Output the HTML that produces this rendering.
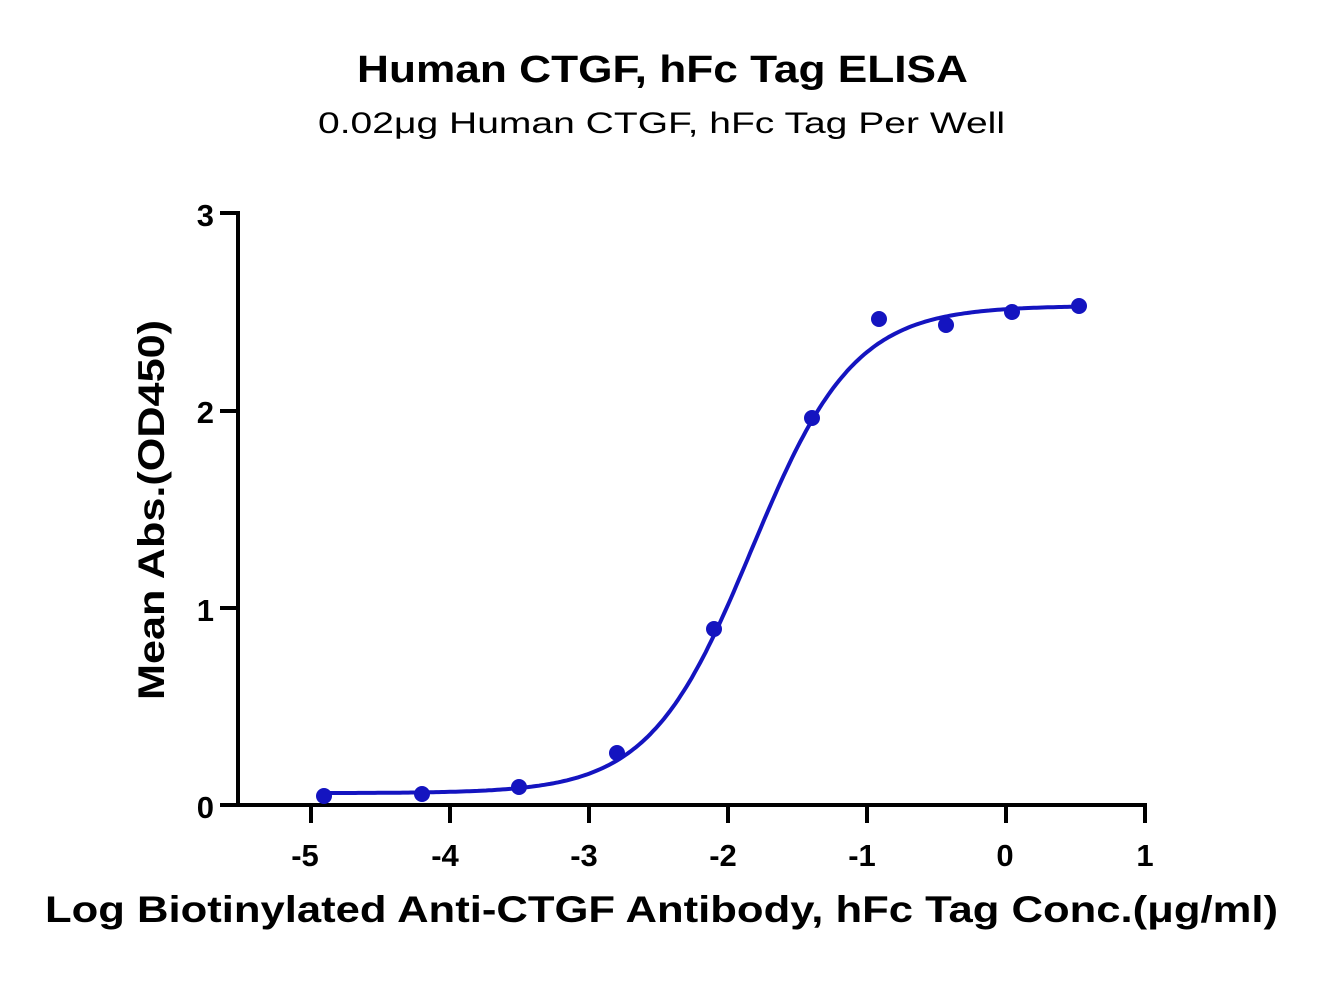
<!DOCTYPE html>
<html><head><meta charset="utf-8"><style>
html,body{margin:0;padding:0;background:#fff;}
svg text{font-family:"Liberation Sans",Arial,sans-serif;}
</style></head><body>
<svg id="s" width="1323" height="978" viewBox="0 0 1323 978" xmlns="http://www.w3.org/2000/svg">
<text x="357" y="82" font-size="38" font-weight="bold" textLength="611" lengthAdjust="spacingAndGlyphs">Human CTGF, hFc Tag ELISA</text>
<text x="318" y="133" font-size="30" textLength="687" lengthAdjust="spacingAndGlyphs">0.02μg Human CTGF, hFc Tag Per Well</text>
<g stroke="#000" stroke-width="4" fill="none">
<line x1="238" y1="211" x2="238" y2="807"/>
<line x1="236" y1="805" x2="1147" y2="805"/>
<line x1="220" y1="213" x2="238" y2="213"/>
<line x1="220" y1="411" x2="238" y2="411"/>
<line x1="220" y1="608" x2="238" y2="608"/>
<line x1="220" y1="805" x2="238" y2="805"/>
<line x1="311" y1="805" x2="311" y2="823"/>
<line x1="450" y1="805" x2="450" y2="823"/>
<line x1="589" y1="805" x2="589" y2="823"/>
<line x1="728" y1="805" x2="728" y2="823"/>
<line x1="867" y1="805" x2="867" y2="823"/>
<line x1="1006" y1="805" x2="1006" y2="823"/>
<line x1="1145" y1="805" x2="1145" y2="823"/>
</g>
<g font-size="31" font-weight="bold" text-anchor="end">
<text x="214" y="226">3</text><text x="214" y="423">2</text><text x="214" y="621">1</text><text x="214" y="818">0</text>
</g>
<g font-size="31" font-weight="bold" text-anchor="middle">
<text x="305" y="866">-5</text><text x="445" y="866">-4</text><text x="584" y="866">-3</text><text x="723" y="866">-2</text><text x="862" y="866">-1</text><text x="1005" y="866">0</text><text x="1145" y="866">1</text>
</g>
<text x="45" y="922" font-size="37" font-weight="bold" textLength="1233" lengthAdjust="spacingAndGlyphs">Log Biotinylated Anti-CTGF Antibody, hFc Tag Conc.(μg/ml)</text>
<text transform="translate(164,700) rotate(-90)" font-size="37" font-weight="bold" textLength="380" lengthAdjust="spacingAndGlyphs">Mean Abs.(OD450)</text>
<path id="c" fill="none" stroke="#1414c0" stroke-width="4"/>
<g fill="#1414c0" id="pts"></g>
</svg>
<script>
var X=function(v){return 311+(v+5)*139;},Y=function(v){return 805-v*197.3;};
var d="";for(var x=-4.88;x<=0.54;x+=0.02){var y=0.06+2.47/(1+Math.pow(10,1.18*(-1.83-x)));d+=(d?"L":"M")+X(x).toFixed(1)+","+Y(y).toFixed(1);}
document.getElementById("c").setAttribute("d",d);
var p=[[324,796],[422,794],[519,787],[617,753],[714,629],[812,418],[879,319],[946,325],[1012,312],[1079,306]],h="";
p.forEach(function(q){h+='<circle cx="'+q[0]+'" cy="'+q[1]+'" r="8"/>';});
document.getElementById("pts").innerHTML=h;
</script>
</body></html>
